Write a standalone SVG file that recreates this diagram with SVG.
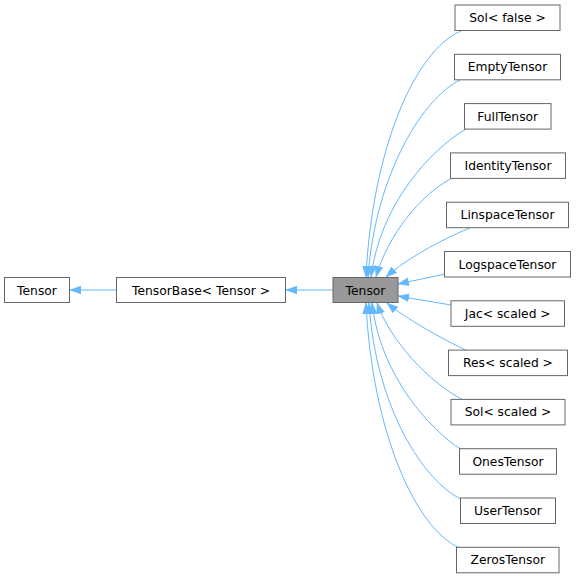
<svg xmlns="http://www.w3.org/2000/svg" width="576" height="579" viewBox="0 0 576 579">
<style>
.box{fill:#ffffff;stroke:#666666;stroke-width:1}
.main{fill:#999999;stroke:#666666;stroke-width:1}
text{font-family:"DejaVu Sans",sans-serif;font-size:12.3px;fill:#000000;text-anchor:middle}
.e{fill:none;stroke:#63b8ff;stroke-width:1;marker-end:url(#ah)}
</style>
<defs>
<marker id="ah" markerUnits="userSpaceOnUse" markerWidth="12" markerHeight="9" refX="11" refY="4" orient="auto">
<path d="M0,0 L11,4 L0,8 z" fill="#63b8ff" stroke="#63b8ff" stroke-width="0.5"/>
</marker>
</defs>
<rect width="576" height="579" fill="#ffffff"/>
<g id="connectors">
<path class="e" d="M116,290 L70,290"/>
<path class="e" d="M333,290 L286,290"/>
<path class="e" d="M461,31 C415,50 372,150 366,277"/>
<path class="e" d="M460,80 C425,97 376,170 368,277"/>
<path class="e" d="M466,129 C430,150 380,205 371,277"/>
<path class="e" d="M452,178 C420,195 388,235 376,277"/>
<path class="e" d="M470,228 C440,240 405,260 386,277"/>
<path class="e" d="M445,274 L398,284"/>
<path class="e" d="M451,305 L398,296"/>
<path class="e" d="M470,352 C440,338 405,318 387,303"/>
<path class="e" d="M465,401 C428,382 390,340 377,303"/>
<path class="e" d="M462,450 C430,430 380,375 372,303"/>
<path class="e" d="M461,499 C425,482 376,410 369,303"/>
<path class="e" d="M460,548 C415,529 372,430 366,303"/>
</g>
<g id="node-tensor-base-root">
<rect class="box" x="4.5" y="277.5" width="65" height="25"/>
<text x="37" y="294.5">Tensor</text>
</g>
<g id="node-tensorbase">
<rect class="box" x="116.5" y="277.5" width="169" height="25"/>
<text x="201" y="294.5">TensorBase&lt; Tensor &gt;</text>
</g>
<g id="node-tensor">
<rect class="main" x="333" y="277.5" width="65" height="25"/>
<text x="365.5" y="294.5">Tensor</text>
</g>
<g id="node-sol-false">
<rect class="box" x="455" y="5" width="105" height="25.5"/>
<text x="507.5" y="22">Sol&lt; false &gt;</text>
</g>
<g id="node-empty">
<rect class="box" x="454.5" y="54.3" width="106" height="25.5"/>
<text x="507.5" y="71.3">EmptyTensor</text>
</g>
<g id="node-full">
<rect class="box" x="464.5" y="103.6" width="86.5" height="25.5"/>
<text x="507.75" y="120.6">FullTensor</text>
</g>
<g id="node-identity">
<rect class="box" x="450.5" y="152.9" width="115" height="25.5"/>
<text x="508" y="169.9">IdentityTensor</text>
</g>
<g id="node-linspace">
<rect class="box" x="446.5" y="202.2" width="122" height="25.5"/>
<text x="507.5" y="219.2">LinspaceTensor</text>
</g>
<g id="node-logspace">
<rect class="box" x="444.5" y="251.5" width="126" height="25.5"/>
<text x="507.5" y="268.5">LogspaceTensor</text>
</g>
<g id="node-jac">
<rect class="box" x="451" y="300.8" width="113.5" height="25.5"/>
<text x="507.75" y="317.8">Jac&lt; scaled &gt;</text>
</g>
<g id="node-res">
<rect class="box" x="448.5" y="350.1" width="119" height="25.5"/>
<text x="508" y="367.1">Res&lt; scaled &gt;</text>
</g>
<g id="node-sol-scaled">
<rect class="box" x="451" y="399.4" width="114" height="25.5"/>
<text x="508" y="416.4">Sol&lt; scaled &gt;</text>
</g>
<g id="node-ones">
<rect class="box" x="459.5" y="448.7" width="97" height="25.5"/>
<text x="508" y="465.7">OnesTensor</text>
</g>
<g id="node-user">
<rect class="box" x="460.5" y="498" width="95" height="25.5"/>
<text x="508" y="515">UserTensor</text>
</g>
<g id="node-zeros">
<rect class="box" x="456.5" y="547.3" width="102.5" height="25.5"/>
<text x="507.75" y="564.3">ZerosTensor</text>
</g>
</svg>
